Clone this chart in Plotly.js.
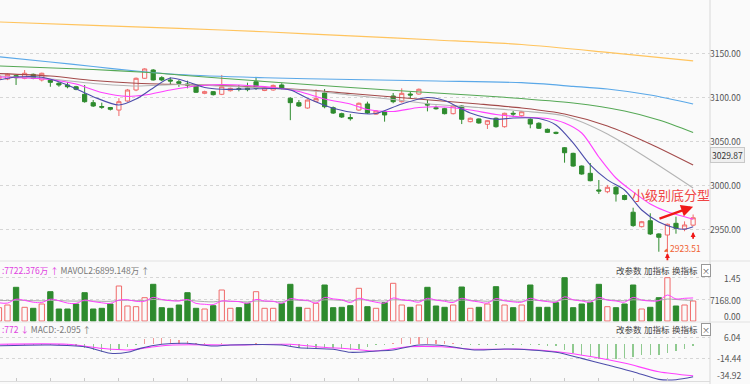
<!DOCTYPE html>
<html><head><meta charset="utf-8">
<script src="https://cdn.plot.ly/plotly-3.0.1.min.js"></script>
<style>html,body{margin:0;padding:0;background:#fafafa;}#chart{width:750px;height:384px;}</style>
</head><body><div id="chart"></div>
<script>
// bar index (-1 is the partially visible first bar)
const idx = Array.from({length: 82}, (_, k) => k - 1);

const openP = [3120.8,3120.8,3124.6,3121.6,3126.1,3119.7,3119.7,3116.0,3114.0,3112.0,3103.4,3093.9,3089.5,3088.4,3085.5,3095.8,3108.3,3121.6,3131.0,3122.3,3119.7,3117.7,3115.1,3112.8,3104.5,3106.4,3103.4,3107.5,3109.8,3110.6,3117.7,3107.7,3108.3,3114.0,3098.9,3093.9,3087.8,3095.5,3104.9,3088.2,3081.4,3077.0,3085.5,3092.4,3080.9,3083.6,3101.5,3095.0,3103.7,3103.7,3092.4,3088.2,3087.1,3081.4,3090.1,3072.3,3075.4,3069.3,3076.2,3066.6,3081.8,3079.1,3075.0,3070.5,3063.6,3060.2,3042.7,3036.3,3021.9,3013.6,2994.7,2992.7,2997.7,2988.4,2969.4,2953.0,2959.7,2944.7,2943.5,2956.8,2950.3,2954.7];
const highP = [3126.0,3127.0,3125.5,3131.0,3127.0,3128.0,3120.5,3117.0,3117.4,3113.0,3114.0,3096.9,3093.9,3089.0,3099.0,3109.5,3122.5,3133.0,3132.0,3124.0,3122.7,3119.7,3118.9,3113.5,3107.5,3107.0,3125.4,3111.0,3114.0,3116.6,3122.0,3111.5,3114.5,3116.0,3100.0,3096.9,3097.5,3109.0,3109.4,3089.5,3082.5,3081.0,3094.0,3095.0,3085.5,3084.5,3104.9,3110.2,3106.4,3110.0,3096.9,3090.5,3088.0,3091.0,3091.0,3077.0,3076.0,3074.0,3077.0,3082.5,3084.4,3084.5,3076.0,3071.5,3064.5,3061.0,3043.5,3037.0,3022.5,3025.3,3006.0,3000.4,2999.0,2989.5,2974.5,2959.5,2968.2,2945.5,2956.5,2964.3,2959.0,2966.8];
const lowP = [3119.0,3119.5,3114.0,3120.5,3120.5,3118.0,3112.0,3112.0,3110.2,3108.0,3093.9,3089.0,3086.9,3085.0,3078.7,3095.0,3107.0,3121.0,3119.0,3118.5,3114.0,3111.9,3110.2,3105.0,3103.5,3102.0,3102.5,3106.5,3106.8,3106.8,3108.3,3107.0,3107.5,3109.0,3074.0,3089.0,3087.0,3094.5,3087.5,3081.0,3076.5,3073.5,3084.5,3081.0,3080.0,3072.3,3093.2,3094.0,3099.2,3103.0,3084.0,3086.0,3080.5,3080.5,3069.6,3071.5,3070.0,3064.0,3065.5,3065.5,3077.6,3078.0,3064.8,3064.0,3059.5,3058.0,3025.7,3021.0,3012.0,3004.5,2990.1,2991.0,2981.5,2983.0,2952.8,2952.0,2943.5,2924.5,2923.51,2945.0,2947.8,2953.5];
const closeP = [3124.2,3126.1,3122.3,3127.3,3121.6,3127.3,3117.0,3114.0,3112.0,3109.1,3095.0,3090.1,3088.8,3086.4,3095.0,3108.3,3121.6,3132.2,3119.7,3119.7,3118.5,3115.9,3114.0,3105.7,3106.4,3103.0,3112.0,3110.2,3109.0,3108.7,3110.2,3110.6,3113.5,3110.2,3093.9,3090.1,3096.9,3098.5,3089.3,3082.1,3077.6,3075.7,3093.2,3082.1,3084.4,3079.9,3095.0,3104.5,3102.6,3109.1,3091.3,3087.1,3081.4,3090.1,3075.0,3076.2,3070.8,3073.4,3066.6,3081.8,3081.0,3083.6,3069.6,3064.8,3060.2,3059.1,3037.0,3021.9,3012.8,3005.2,2993.5,2997.7,2990.1,2983.9,2954.2,2958.6,2944.7,2940.9,2955.7,2951.1,2954.9,2963.1];

// moving averages (bar index, price)
const ma5Idx = [-1,1,4,7,10,13,15,17,19,21,23,25,28,31,33,35,38,41,43,46,49,51,54,57,59,62,64,66,68,70,72,74,76,78,79,80];
const ma5Val = [3119.7,3123.1,3122.7,3114.0,3100.7,3091.2,3098.0,3110.6,3121.9,3117.7,3111.1,3109.1,3109.4,3110.0,3108.3,3098.9,3087.5,3081.8,3081.6,3092.4,3099.8,3096.4,3082.2,3075.0,3076.5,3075.9,3068.5,3048.1,3023.1,3006.1,2994.6,2971.9,2958.3,2951.2,2950.1,2953.0];
const ma10Idx = [-1,5,8,11,14,16,19,22,25,28,31,34,37,40,42,45,48,51,54,57,60,63,65,67,69,71,73,75,77,79,80];
const ma10Val = [3123.1,3120.2,3115.1,3105.5,3101.0,3102.6,3108.3,3112.8,3114.5,3113.4,3111.1,3106.6,3098.1,3092.4,3086.1,3083.9,3088.4,3089.0,3085.5,3080.4,3077.6,3075.9,3070.8,3059.4,3032.2,3008.3,2992.5,2978.8,2969.9,2964.2,2961.3];
const ma20Idx = [-1,5,10,15,20,25,30,35,40,45,50,55,60,65,70,75,80];
const ma20Val = [3124.2,3120.8,3115.7,3112.8,3114.5,3112.8,3110.6,3107.7,3102.6,3097.5,3091.8,3088.4,3084.4,3078.7,3058.3,3028.7,2996.9];
const ma30Idx = [-1,5,10,15,20,25,30,35,40,45,50,55,60,65,70,75,80];
const ma30Val = [3127.0,3124.2,3119.1,3115.9,3114.5,3113.4,3111.1,3108.3,3104.3,3100.4,3096.4,3092.4,3087.8,3081.0,3067.4,3047.0,3023.1];
const ma60Idx = [-1,10,16,20,30,40,50,58,66,72,76,80];
const ma60Val = [3135.6,3131.6,3128.4,3125.4,3118.0,3111.1,3104.9,3100.0,3093.5,3084.4,3074.2,3060.0];
const ma120Idx = [-1,5,10,15,20,30,40,50,60,66,70,75,80];
const ma120Val = [3146.1,3140.1,3135.0,3129.9,3125.9,3122.2,3120.2,3118.5,3116.6,3112.5,3109.4,3102.6,3092.4];
const ma250Idx = [-1,10,20,30,40,50,60,70,80];
const ma250Val = [3185.6,3181.8,3178.3,3174.5,3169.7,3165.1,3160.0,3151.1,3141.3];

// volume (万) and up/down colouring flags (1 = red / up)
const volume = [4454,5358,11286,4588,4253,5693,9812,4019,4019,5693,9478,4019,4253,5693,11721,5023,4789,7803,12291,4454,4253,5358,9478,4253,4019,5124,10382,4253,4454,5928,9812,4253,4253,5928,12291,4588,4253,5928,12056,4454,4588,5124,10951,4789,4253,6129,12626,5358,4588,5358,11286,5023,4588,5358,11386,4253,4588,5693,11487,5358,4454,5358,12056,4588,4588,6129,14501,4454,5693,6263,12291,4789,4454,5693,12056,4019,4588,7803,14501,5023,5358,6698];
const volUp = [1,1,0,1,0,1,0,0,0,0,0,0,0,0,1,1,1,1,0,0,0,0,0,0,1,0,1,1,0,0,1,1,1,0,0,0,1,1,0,0,0,0,1,0,1,0,1,1,0,1,0,0,0,1,0,1,0,1,0,1,0,1,0,0,0,0,0,0,0,0,0,1,0,0,0,1,0,0,1,0,1,1];
const mavol1 = [6100,6000,7300,6900,6300,6200,7300,6800,6000,5900,7000,6500,6100,5900,7000,7100,6600,6600,7900,7200,6800,6700,7200,5900,5600,5500,6700,6600,6500,5900,7200,6700,6600,5900,7500,7100,6900,6000,7900,7400,7100,6200,7600,6900,6300,6000,7700,7100,6800,6300,7600,7000,6600,6200,7600,6800,6400,6000,7500,6800,6400,6300,7600,6900,6500,6300,8100,7100,6700,6300,7900,7000,6700,6300,7900,7000,6700,6800,8700,7400,7600,7722.376];
const mavol2 = [6900,6850,6950,6900,6800,6750,6900,6850,6700,6650,6800,6700,6600,6600,6900,6950,6800,6900,7200,7100,6900,6800,7000,6700,6500,6400,6700,6600,6500,6400,6700,6600,6550,6500,7000,6900,6800,6700,7100,7050,6900,6700,7100,7000,6800,6700,7100,7000,6900,6800,7100,7000,6900,6700,7000,6900,6800,6600,6900,6800,6700,6600,6900,6850,6750,6650,7200,7100,6900,6800,7200,7100,6900,6800,7100,7000,6850,6900,7350,7200,7000,6899.148];

// MACD
const macdHist = [-1.0,-1.2,-0.8,-1.0,-1.5,-1.2,-1.0,-1.5,-2.0,-2.5,-4.3,-6.7,-8.7,-7.7,-6.0,-3.3,-1.3,4.0,5.7,5.0,4.0,3.0,2.0,1.0,0.3,-0.5,0.4,-0.3,-0.6,-0.4,0.3,-0.3,-0.5,-1.0,-3.3,-4.3,-5.3,-5.3,-4.7,-4.0,-5.0,-6.0,-5.3,-3.3,-1.5,-1.5,0.5,5.0,5.7,6.7,5.0,3.3,2.3,1.0,-1.0,-1.3,-1.5,-1.5,-1.7,-1.5,-1.0,-1.5,-1.2,-1.7,-2.0,-2.3,-6.7,-9.0,-11.0,-13.3,-15.0,-15.7,-15.7,-14.3,-13.3,-11.7,-11.7,-11.0,-9.0,-7.3,-5.0,-2.3];
const difIdx = [-1,5,9,12,14,15.5,18,21,24,26,32,34,38,40,43,45,48,51,54.5,58,61,64,67,70,73,76,78,80];
const difVal = [-2.2,-1.5,-3.2,-9.7,-8.7,-4.8,-0.8,0.2,-2.5,-1.5,-1.5,-4.2,-5.7,-8.7,-7.4,-6.4,-1.5,-2.2,-6.4,-5.4,-6.4,-8.7,-14.7,-21.3,-27.9,-35.5,-35.8,-32.9];
const deaIdx = [-1,7,11,14,16.6,19.3,26,33,36,40,43,46.7,50.7,54.5,60.4,64.2,68.2,72.1,76,80];
const deaVal = [-0.8,-0.8,-4.8,-6.4,-3.8,-1.5,-1.5,-0.8,-3.2,-5.4,-7.4,-3.2,-3.2,-5.7,-5.7,-8.1,-13.1,-19.6,-27.9,-31.9];

// tick labels
const priceTicks = [3150, 3100, 3050, 3000, 2950];
const volTicks = [14500, 7168, 0];
const volTickText = ['1.45', '7168.00', '0.00'];
const macdTicks = [6.04, -14.44, -34.92];
const lastPriceLabel = '3029.87';
const lowLabel = '2923.51';

const RED = '#f06a6a', GREEN = '#2e8b2e', BG = '#fafafa';

const traces = [];
function maLine(xs, ys, color, w) {
  return {type: 'scatter', mode: 'lines', x: xs, y: ys, xaxis: 'x', yaxis: 'y',
    line: {color: color, width: w || 1, shape: 'spline', smoothing: 0.8}, hoverinfo: 'skip'};
}
traces.push(maLine(ma250Idx, ma250Val, '#ffc45e', 1.2));
traces.push(maLine(ma120Idx, ma120Val, '#5aa8e8', 1.2));
traces.push(maLine(ma60Idx, ma60Val, '#55a855', 1.1));
traces.push(maLine(ma30Idx, ma30Val, '#a34a4a', 1.1));
traces.push(maLine(ma20Idx, ma20Val, '#b4b4b4', 1.1));
traces.push({type: 'candlestick', x: idx, open: openP, high: highP, low: lowP, close: closeP,
  xaxis: 'x', yaxis: 'y', whiskerwidth: 0,
  increasing: {line: {color: RED, width: 1}, fillcolor: BG},
  decreasing: {line: {color: GREEN, width: 1}, fillcolor: GREEN}, hoverinfo: 'skip'});
traces.push(maLine(ma10Idx, ma10Val, '#ff40ff', 1.1));
traces.push(maLine(ma5Idx, ma5Val, '#4d4dab', 1.1));

traces.push({type: 'bar', x: idx, y: volume, xaxis: 'x', yaxis: 'y2', width: 0.62,
  marker: {color: volUp.map(u => u ? BG : GREEN), line: {color: volUp.map(u => u ? RED : GREEN), width: 1}},
  hoverinfo: 'skip'});
traces.push({type: 'scatter', mode: 'lines', x: idx, y: mavol2, xaxis: 'x', yaxis: 'y2',
  line: {color: '#aaaaaa', width: 1, shape: 'spline'}, hoverinfo: 'skip'});
traces.push({type: 'scatter', mode: 'lines', x: idx, y: mavol1, xaxis: 'x', yaxis: 'y2',
  line: {color: '#ff40ff', width: 1, shape: 'spline'}, hoverinfo: 'skip'});

traces.push({type: 'bar', x: idx, y: macdHist, xaxis: 'x', yaxis: 'y3', width: 0.16,
  marker: {color: macdHist.map(v => v >= 0 ? '#f29a9a' : '#8fca8f')}, hoverinfo: 'skip'});
traces.push({type: 'scatter', mode: 'lines', x: deaIdx, y: deaVal, xaxis: 'x', yaxis: 'y3',
  line: {color: '#ff40ff', width: 1.1, shape: 'spline', smoothing: 0.8}, hoverinfo: 'skip'});
traces.push({type: 'scatter', mode: 'lines', x: difIdx, y: difVal, xaxis: 'x', yaxis: 'y3',
  line: {color: '#4d4dab', width: 1.1, shape: 'spline', smoothing: 0.8}, hoverinfo: 'skip'});

const FONT = 'Noto Sans CJK SC, Liberation Sans, sans-serif';
const LX = 743 / 710;
const ann = [];
priceTicks.forEach(v => ann.push({xref: 'paper', yref: 'y', x: LX, y: v, xanchor: 'right', yanchor: 'middle',
  text: v.toFixed(2), showarrow: false, font: {size: 8.5, color: '#555', family: FONT}}));
ann.push({xref: 'paper', yref: 'y', x: LX + 0.003, y: 3034, xanchor: 'right', yanchor: 'middle', text: lastPriceLabel,
  showarrow: false, bgcolor: '#efefef', bordercolor: '#c8c8c8', borderwidth: 1, borderpad: 1,
  font: {size: 8.5, color: '#333', family: FONT}});
volTicks.forEach((v, k) => ann.push({xref: 'paper', yref: 'y2', x: LX, y: v, xanchor: 'right', yanchor: 'middle',
  yshift: k === 2 ? 5 : 0, text: volTickText[k], showarrow: false, font: {size: 8.5, color: '#555', family: FONT}}));
macdTicks.forEach((v, k) => ann.push({xref: 'paper', yref: 'y3', x: LX, y: v, xanchor: 'right', yanchor: 'middle',
  yshift: k === 2 ? 4 : 0, text: v.toFixed(2), showarrow: false, font: {size: 8.5, color: '#555', family: FONT}}));

const hdrVolY = 1 - 270 / 384, hdrMacdY = 1 - 329 / 384;
ann.push({xref: 'paper', yref: 'paper', x: 0, y: hdrVolY, xanchor: 'left', yanchor: 'middle', showarrow: false,
  text: '<span style="color:#e040e0">:7722.376万 ↑</span> <span style="color:#777">MAVOL2:6899.148万 ↑</span>',
  font: {size: 8.5, family: FONT}});
ann.push({xref: 'paper', yref: 'paper', x: 0, y: hdrMacdY, xanchor: 'left', yanchor: 'middle', showarrow: false,
  text: '<span style="color:#e040e0">:772 ↓</span> <span style="color:#777">MACD:-2.095 ↑</span>',
  font: {size: 8.5, family: FONT}});
[hdrVolY, hdrMacdY].forEach(yy => {
  [['改参数', 628.5], ['加指标', 656.5], ['换指标', 684.5]].forEach(b => ann.push({xref: 'paper', yref: 'paper',
    x: b[1] / 710, y: yy, xanchor: 'center', yanchor: 'middle', text: b[0], showarrow: false,
    font: {size: 8.5, color: '#444', family: FONT}}));
  ann.push({xref: 'paper', yref: 'paper', x: 705.5 / 710, y: yy, xanchor: 'center', yanchor: 'middle', text: '×',
    showarrow: false, bordercolor: '#999', borderwidth: 1, borderpad: 0, bgcolor: '#fff',
    font: {size: 8, color: '#555', family: FONT}});
});

// chart notes
ann.push({xref: 'x', yref: 'y', x: 77.4, y: 2989, text: '小级别底分型', showarrow: false,
  font: {size: 13, color: '#f04545', family: FONT}});
ann.push({xref: 'x', yref: 'y', x: 80.0, y: 2975.7, axref: 'x', ayref: 'y', ax: 75.9, ay: 2961.4,
  text: '', showarrow: true, arrowhead: 2, arrowsize: 1, arrowwidth: 2.4, arrowcolor: '#f01818'});
ann.push({xref: 'x', yref: 'y', x: 77, y: 2923.0, axref: 'x', ayref: 'y', ax: 77, ay: 2913.0,
  text: '', showarrow: true, arrowhead: 2, arrowsize: 0.55, arrowwidth: 1.8, arrowcolor: '#f01818'});
ann.push({xref: 'x', yref: 'y', x: 80, y: 2947.0, axref: 'x', ayref: 'y', ax: 80, ay: 2937.5,
  text: '', showarrow: true, arrowhead: 2, arrowsize: 0.55, arrowwidth: 1.8, arrowcolor: '#f01818'});
ann.push({xref: 'x', yref: 'y', x: 77.1, y: 2929.3, xanchor: 'left', yanchor: 'middle', text: lowLabel,
  showarrow: false, font: {size: 8.5, color: '#f06030', family: FONT}});
ann.push({xref: 'x', yref: 'y', x: 76.6, y: 2924.5, axref: 'x', ayref: 'y', ax: 77.2, ay: 2927.5,
  text: '', showarrow: true, arrowhead: 2, arrowsize: 0.6, arrowwidth: 1.2, arrowcolor: '#f06030'});

const gridAxis = (dom, rng, ticks) => ({domain: dom, range: rng, side: 'right', tickvals: ticks,
  showticklabels: false, ticks: '', showgrid: true, gridcolor: '#d6d6d6', griddash: 'dot', gridwidth: 1,
  zeroline: false, fixedrange: true});

const layout = {
  width: 750, height: 384, margin: {l: 0, r: 40, t: 0, b: 0},
  paper_bgcolor: BG, plot_bgcolor: BG, showlegend: false, font: {family: FONT},
  bargap: 0,
  xaxis: {range: [-0.875, 81.97], anchor: 'y3', showgrid: false, zeroline: false, showticklabels: false,
    rangeslider: {visible: false}, tickvals: idx.filter(v => (v - 1) % 4 === 0), ticks: 'inside', ticklen: 3,
    tickcolor: '#c8c8c8', showline: true, linecolor: '#dddddd', fixedrange: true},
  yaxis: gridAxis([1 - 261 / 384, 1], [2913.96, 3210.57], priceTicks),
  yaxis2: gridAxis([1 - 322 / 384, 1 - 262 / 384], [-335, 19759], [14500, 7168]),
  yaxis3: gridAxis([1 - 381 / 384, 1 - 323 / 384], [-37.1, 20.3], [6.04, -14.44]),
  shapes: [
    {type: 'line', xref: 'paper', yref: 'paper', x0: 1, x1: 1, y0: 0, y1: 1, line: {color: '#d8d8d8', width: 1}},
    {type: 'line', xref: 'paper', yref: 'paper', x0: 0, x1: 750 / 710, y0: 1 - 261 / 384, y1: 1 - 261 / 384, line: {color: '#e2e2e2', width: 1}},
    {type: 'line', xref: 'paper', yref: 'paper', x0: 0, x1: 750 / 710, y0: 1 - 322 / 384, y1: 1 - 322 / 384, line: {color: '#e2e2e2', width: 1}}
  ],
  annotations: ann
};

Plotly.newPlot('chart', traces, layout, {staticPlot: true, displayModeBar: false});
</script></body></html>
